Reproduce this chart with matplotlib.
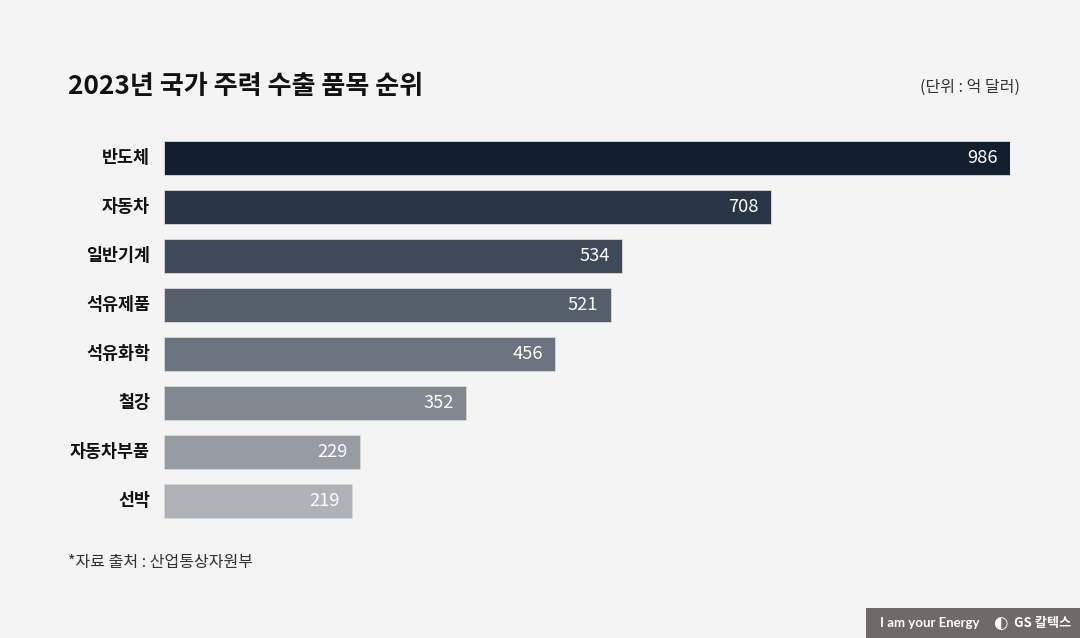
import matplotlib
matplotlib.use('Agg')
import matplotlib.pyplot as plt
from matplotlib.patches import Rectangle

plt.rcParams['font.family'] = ['Noto Sans CJK KR', 'DejaVu Sans']

categories = ['반도체', '자동차', '일반기계', '석유제품', '석유화학', '철강', '자동차부품', '선박']
values = [986, 708, 534, 521, 456, 352, 229, 219]
bar_colors = ['#121f2e', '#283545', '#3e4a58', '#545f6a', '#6b747e', '#81888f', '#979ba2', '#aeb1b5']

W, H = 1080, 638
fig = plt.figure(figsize=(W / 100, H / 100), dpi=100)
fig.patch.set_facecolor('#f4f4f4')

# axes placed in pixel coords
left, right = 164, 1010
top, bottom = 133.5, 525.5
ax = fig.add_axes([left / W, 1 - bottom / H, (right - left) / W, (bottom - top) / H])
ax.set_facecolor('none')

ypos = list(range(len(categories)))
ax.barh(ypos, values, height=0.69, color=bar_colors, edgecolor='#d8d8d8', linewidth=0.6)
ax.set_xlim(0, max(values))
ax.set_ylim(len(categories) - 0.5, -0.5)
ax.axis('off')

for y, v, c in zip(ypos, values, categories):
    ax.annotate(str(v), (v, y), xytext=(-9, 0), textcoords='offset points', ha='right', va='center',
                color='white', fontsize=13.2)
    ax.annotate(c, (0, y), xytext=(-10, 0), textcoords='offset points', ha='right', va='center',
                color='#111111', fontsize=12.5, fontweight='bold')

fig.text(68 / W, 1 - 86 / H, '2023년 국가 주력 수출 품목 순위', fontsize=18.8, fontweight='bold',
         color='#111111', va='center', ha='left')
fig.text(1020 / W, 1 - 87 / H, '(단위 : 억 달러)', fontsize=11.5, color='#333333', va='center', ha='right')
fig.text(68 / W, 1 - 562 / H, '*자료 출처 : 산업통상자원부', fontsize=11.5, color='#333333', va='center', ha='left')

# footer badge
fig.patches.append(Rectangle((866 / W, 0), (W - 866) / W, 30 / H, transform=fig.transFigure,
                             facecolor='#6f6a67', edgecolor='none'))
fig.text(880 / W, 1 - 623 / H, 'I am your Energy', fontsize=9.5, fontweight='bold', color='white',
         va='center', ha='left', family=['Lato', 'DejaVu Sans'])
fig.text(1000 / W, 1 - 623 / H, '◐', fontsize=12, color='white', va='center', ha='center',
         family=['DejaVu Sans'])
fig.text(1014 / W, 1 - 623 / H, 'GS 칼텍스', fontsize=9.5, fontweight='bold', color='white',
         va='center', ha='left')

fig.savefig('out.png', dpi=100, facecolor=fig.get_facecolor())
